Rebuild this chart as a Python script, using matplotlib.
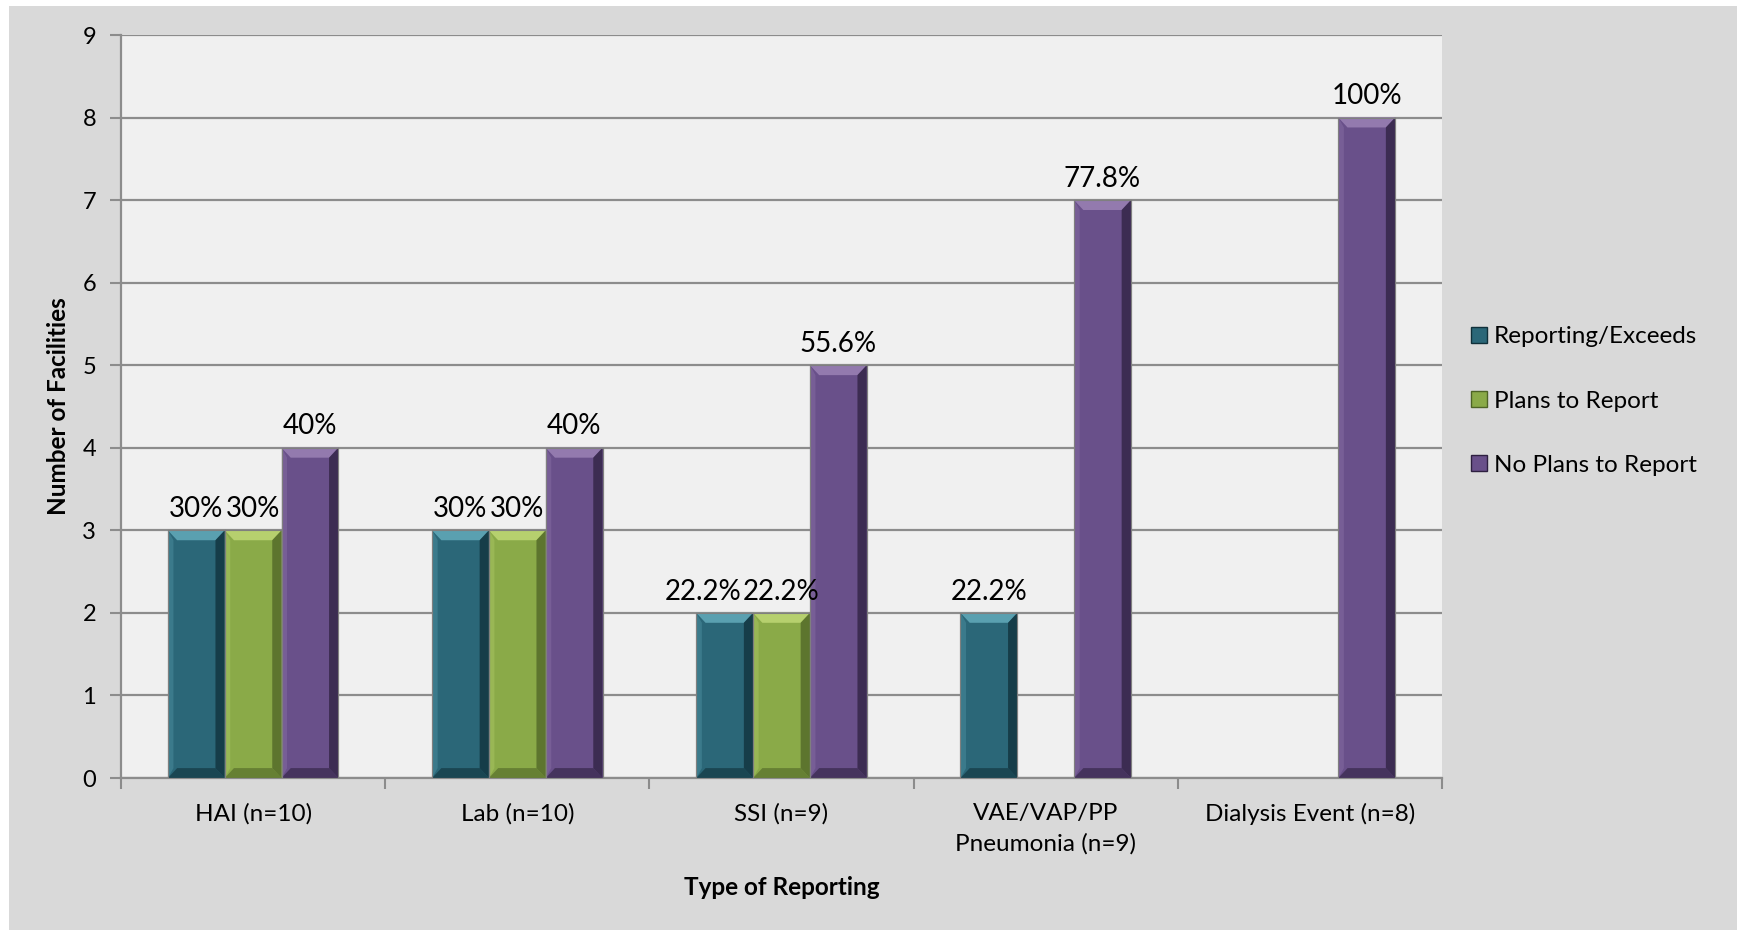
import numpy as np
import matplotlib.pyplot as plt
from matplotlib.patches import Rectangle, Polygon
from matplotlib.lines import Line2D

plt.rcParams['font.family'] = ['Lato', 'DejaVu Sans']

categories = ['HAI (n=10)', 'Lab (n=10)', 'SSI (n=9)', 'VAE/VAP/PP\nPneumonia (n=9)', 'Dialysis Event (n=8)']
series = ['Reporting/Exceeds', 'Plans to Report', 'No Plans to Report']
reporting = [3, 3, 2, 2, 0]
plans = [3, 3, 2, 0, 0]
no_plans = [4, 4, 5, 7, 8]
reporting_lbl = ['30%', '30%', '22.2%', '22.2%', '']
plans_lbl = ['30%', '30%', '22.2%', '', '']
no_plans_lbl = ['40%', '40%', '55.6%', '77.8%', '100%']

# face, light (top/left bevel), dark (right/bottom bevel)
colors = {
    'Reporting/Exceeds': ('#2b6778', '#5aa0b0', '#10303a'),
    'Plans to Report': ('#8aaa48', '#b6d06e', '#4e6426'),
    'No Plans to Report': ('#69508a', '#937aae', '#2e2040'),
}

fig = plt.figure(figsize=(17.37, 9.30), dpi=100)
fig.patch.set_facecolor('white')
fig.patches.append(Rectangle((9/1737, 0), 1, 1 - 6/930, transform=fig.transFigure,
                             facecolor='#d9d9d9', edgecolor='none', zorder=-10))
ax = fig.add_axes([121/1737, 1 - 778/930, (1442-121)/1737, (778-35)/930])
ax.set_facecolor('#f0f0f0')

x = np.arange(len(categories))
w = 0.215
bw_x = 0.035   # bevel width in data x
bw_y = 0.12    # bevel height in data y

labels_by_cat = {i: [] for i in range(len(categories))}

for i, (name, vals, lbls) in enumerate(zip(series, [reporting, plans, no_plans],
                                          [reporting_lbl, plans_lbl, no_plans_lbl])):
    face, light, dark = colors[name]
    bars = ax.bar(x + (i - 1) * w, vals, w, color=face, edgecolor='#7f7f7f',
                  linewidth=0.8, zorder=3)
    for j, (b, lab) in enumerate(zip(bars, lbls)):
        h = b.get_height()
        if h <= 0:
            continue
        x0 = b.get_x()
        x1 = x0 + b.get_width()
        # bevel pieces
        ax.add_patch(Polygon([(x0, h), (x1, h), (x1 - bw_x, h - bw_y), (x0 + bw_x, h - bw_y)],
                             facecolor=light, edgecolor='none', zorder=4))
        ax.add_patch(Polygon([(x1, 0), (x1, h), (x1 - bw_x, h - bw_y), (x1 - bw_x, bw_y)],
                             facecolor=dark, edgecolor='none', zorder=4, alpha=0.75))
        ax.add_patch(Polygon([(x0, 0), (x0, h), (x0 + bw_x * 0.6, h - bw_y), (x0 + bw_x * 0.6, bw_y)],
                             facecolor=light, edgecolor='none', zorder=4, alpha=0.35))
        ax.add_patch(Polygon([(x0, 0), (x1, 0), (x1 - bw_x, bw_y), (x0 + bw_x, bw_y)],
                             facecolor=dark, edgecolor='none', zorder=4, alpha=0.6))
        ax.add_patch(Rectangle((x0, 0), b.get_width(), h, facecolor='none',
                               edgecolor='#7f7f7f', linewidth=0.8, zorder=5))
        if lab:
            t = ax.annotate(lab, (b.get_x() + b.get_width() / 2, h), xytext=(0, 6),
                            textcoords='offset points', ha='center', va='bottom',
                            fontsize=20, color='black', zorder=6)
            labels_by_cat[j].append(t)

ax.set_xlim(-0.5, len(categories) - 0.5)
ax.set_ylim(0, 9)
ax.set_yticks(range(10))
ax.yaxis.grid(True, color='#8c8c8c', linewidth=1.6, zorder=0)
ax.set_axisbelow(True)

ax.set_xticks(np.arange(len(categories) + 1) - 0.5)
ax.set_xticklabels([])
ax.set_xticks(x, minor=True)
ax.set_xticklabels(categories, minor=True, fontsize=17.5, linespacing=1.5)
ax.tick_params(axis='x', which='minor', length=0, pad=18)
ax.tick_params(axis='x', which='major', length=8, width=1.5, color='#8c8c8c')
ax.tick_params(axis='y', length=8, width=1.5, color='#8c8c8c', labelsize=17, pad=10)

for s in ['top', 'right']:
    ax.spines[s].set_visible(False)
for s in ['left', 'bottom']:
    ax.spines[s].set_color('#8c8c8c')
    ax.spines[s].set_linewidth(1.6)

ax.set_xlabel('Type of Reporting', fontsize=17.5, fontweight='bold', labelpad=16)
ax.set_ylabel('Number of Facilities', fontsize=17.5, fontweight='bold', labelpad=9)

handles = [Line2D([], [], marker='s', linestyle='none', markersize=12,
                  markerfacecolor=colors[n][0], markeredgecolor=colors[n][2],
                  markeredgewidth=1.0, label=n) for n in series]
fig.legend(handles=handles, loc='center left', bbox_to_anchor=(1443/1737, 1 - 401/930),
           frameon=False, fontsize=17.5, handletextpad=0.0, labelspacing=1.78,
           handlelength=1.2)

# nudge adjacent data labels apart if they collide (like Excel does)
fig.canvas.draw()
r = fig.canvas.get_renderer()
for j, texts in labels_by_cat.items():
    for a, b in zip(texts[:-1], texts[1:]):
        ea = a.get_window_extent(r)
        eb = b.get_window_extent(r)
        same_row = abs(ea.y0 - eb.y0) < 5
        overlap = ea.x1 - eb.x0 + 2
        if same_row and overlap > 0:
            dx, dy = a.xyann
            a.xyann = (dx - overlap * 72 / fig.dpi, dy)

plt.savefig('out.png', dpi=100, facecolor=fig.get_facecolor())
